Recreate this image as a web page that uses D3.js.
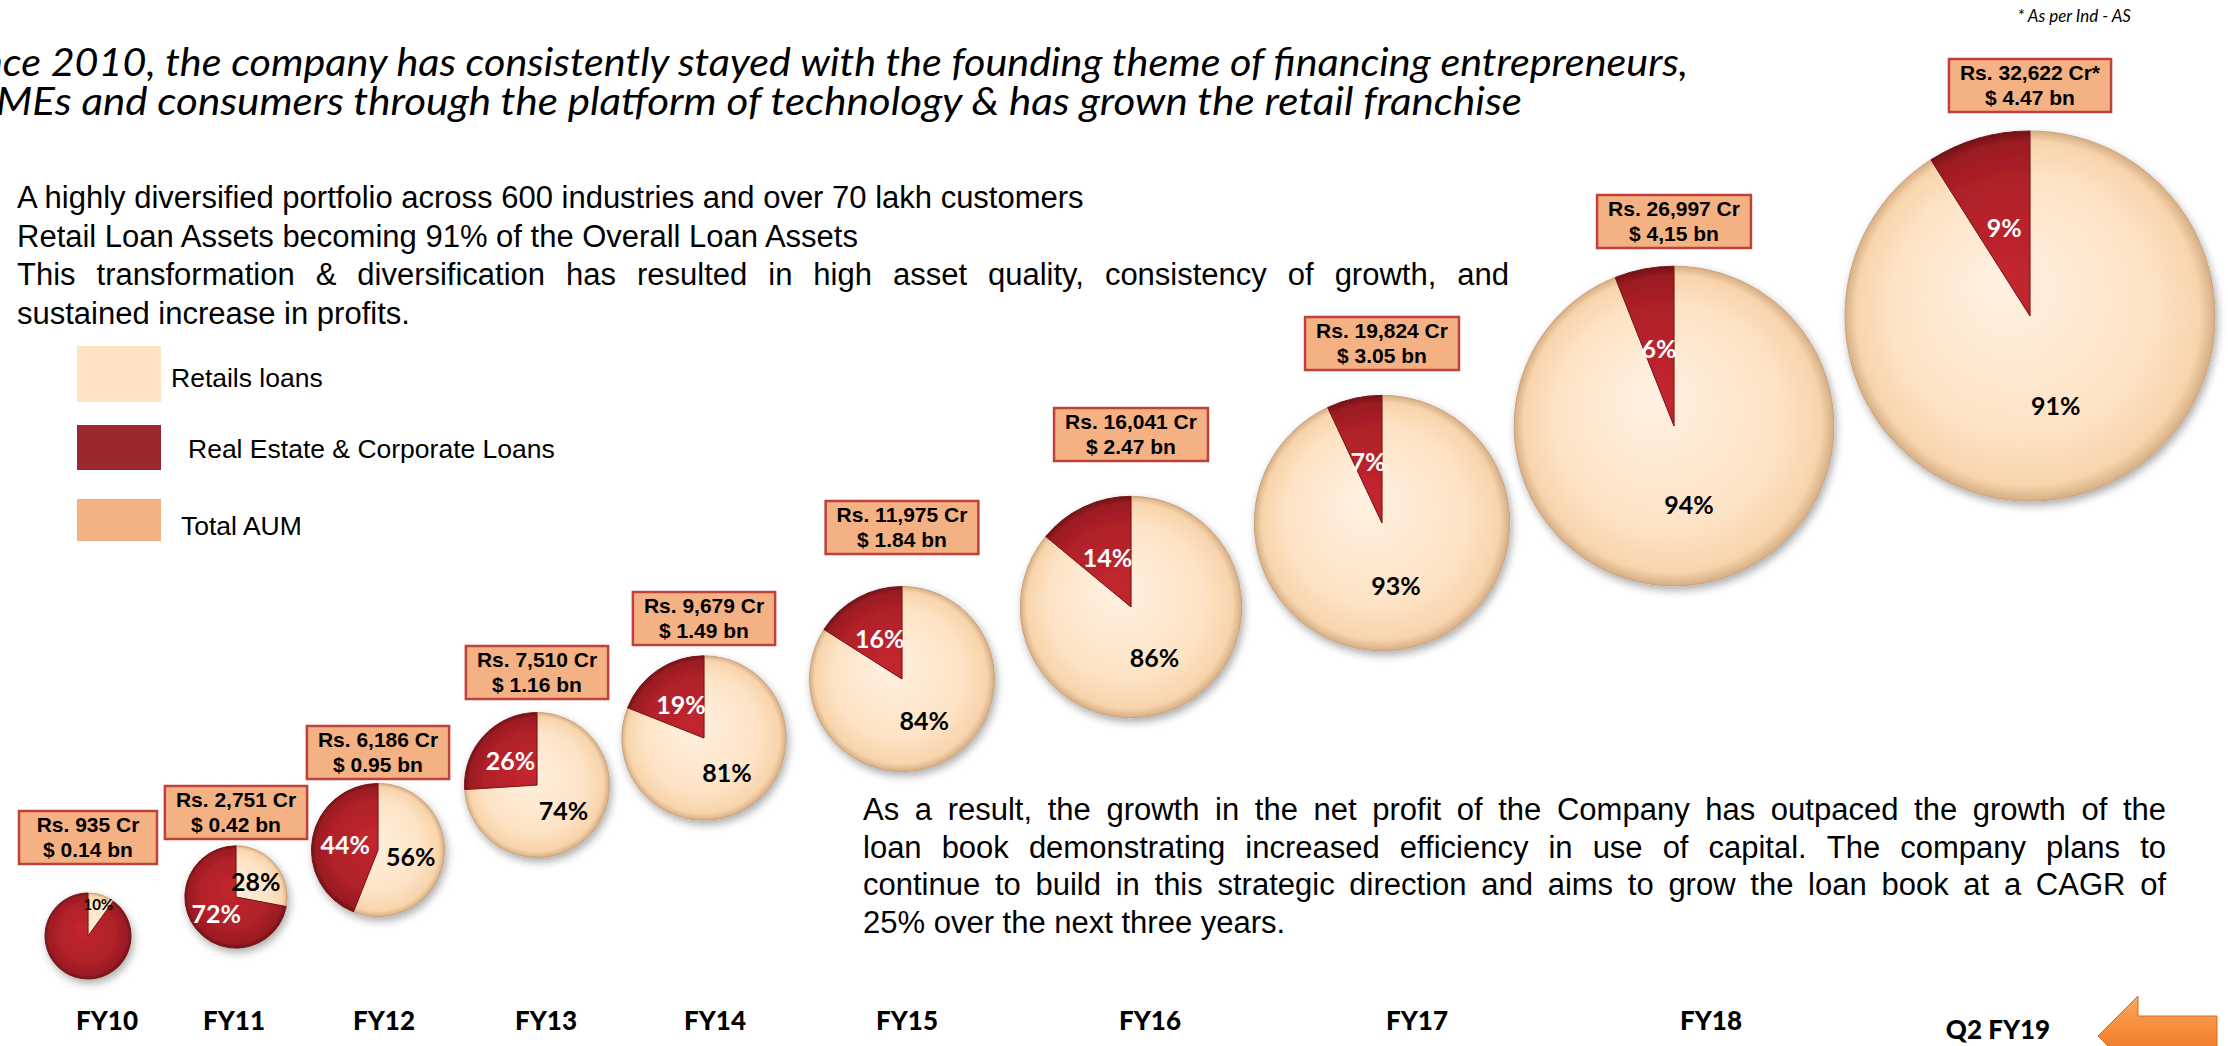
<!DOCTYPE html>
<html>
<head>
<meta charset="utf-8">
<script src="https://cdn.jsdelivr.net/npm/d3@7"></script>
<style>
  html, body { margin: 0; padding: 0; background: #fff; }
  svg { display: block; }
  .body-txt { font-family: "Liberation Sans", Arial, sans-serif; font-size: 31px; fill: #000; }
  .legend-txt { font-family: "Liberation Sans", Arial, sans-serif; font-size: 26.5px; fill: #000; }
  .title { font-family: Lato, "Open Sans", sans-serif; font-style: italic; font-size: 38px; fill: #000; }
  .note { font-family: Lato, "Open Sans", sans-serif; font-style: italic; font-size: 17px; fill: #000; }
  .box-txt { font-family: "Liberation Sans", Arial, sans-serif; font-weight: bold; font-size: 21px; fill: #000; }
  .pct { font-family: Lato, "Open Sans", sans-serif; font-weight: bold; font-size: 25px; }
  .year { font-family: Lato, "Open Sans", sans-serif; font-weight: 900; font-size: 26px; fill: #000; }
</style>
</head>
<body>
<svg id="chart" width="2228" height="1046"></svg>
<script>
// ---------- DATA ----------
const years = ["FY10", "FY11", "FY12", "FY13", "FY14", "FY15", "FY16", "FY17", "FY18", "Q2 FY19"];
const aumCr = [935, 2751, 6186, 7510, 9679, 11975, 16041, 19824, 26997, 32622];
const aumUsd = ["0.14", "0.42", "0.95", "1.16", "1.49", "1.84", "2.47", "3.05", "4,15", "4.47"];
const crMark = ["", "", "", "", "", "", "", "", "", "*"];
const retailPct = [10, 28, 56, 74, 81, 84, 86, 93, 94, 91];
const corpPct = [90, 72, 44, 26, 19, 16, 14, 7, 6, 9];
const hiddenLabels = ["FY10:corp"];   // 90% slice of FY10 has no label in the deck

const legendLabels = ["Retails loans", "Real Estate & Corporate Loans", "Total AUM"];

const titleLines = [
  "Since 2010, the company has consistently stayed with the founding theme of financing entrepreneurs,",
  "SMEs and consumers through the platform of technology & has grown the retail franchise"
];
const titleVisible = [
  "ce 2010, the company has consistently stayed with the founding theme of financing entrepreneurs,",
  "MEs and consumers through the platform of technology & has grown the retail franchise"
];
const introLines = [
  "A highly diversified portfolio across 600 industries and over 70 lakh customers",
  "Retail Loan Assets becoming 91% of the Overall Loan Assets",
  "This transformation & diversification has resulted in high asset quality, consistency of growth, and",
  "sustained increase in profits."
];
const resultLines = [
  "As a result, the growth in the net profit of the Company has outpaced the growth of the",
  "loan book demonstrating increased efficiency in use of capital. The company plans to",
  "continue to build in this strategic direction and aims to grow the loan book at a CAGR of",
  "25% over the next three years."
];

// ---------- COLOURS ----------
const C_BEIGE = "#fde2c3";
const C_AUM = "#f4b183";
const C_AUM_EDGE = "#c0403a";

// ---------- LAYOUT (slots along the growth staircase) ----------
const slotX = d3.scaleOrdinal(years, [88, 236, 378, 537, 704, 902, 1131, 1382, 1674, 2030]);
const slotY = d3.scaleOrdinal(years, [936, 897, 850, 785, 738, 679, 607, 523, 426, 316]);
const boxBottom = d3.scaleOrdinal(years, [864, 839, 779, 699, 645, 554, 461, 370, 248, 112]);
const tickX = d3.scaleOrdinal(years, [107, 234, 384, 546, 715, 907, 1150, 1417, 1711, 1998]);
const rScale = d3.scaleLinear().domain([d3.min(aumCr), d3.max(aumCr)]).range([43, 185]);

const svg = d3.select("#chart");
const defs = svg.append("defs");

// ---------- DEFS ----------
const shadow = defs.append("filter").attr("id", "shadow")
  .attr("x", "-20%").attr("y", "-20%").attr("width", "140%").attr("height", "140%");
shadow.append("feDropShadow")
  .attr("dx", 2).attr("dy", 4).attr("stdDeviation", 4)
  .attr("flood-color", "#000").attr("flood-opacity", 0.33);

const axisGrad = defs.append("linearGradient").attr("id", "axisGrad");
[["0%", "#1a1a1a"], ["40%", "#444"], ["52%", "#a0a0a0"], ["65%", "#555"], ["100%", "#111"]]
  .forEach(([o, c]) => axisGrad.append("stop").attr("offset", o).attr("stop-color", c));

const arrowGrad = defs.append("linearGradient").attr("id", "arrowGrad")
  .attr("x1", 0).attr("y1", 0).attr("x2", 0).attr("y2", 1);
[["0%", "#f9a964"], ["45%", "#f68a36"], ["100%", "#de6a1c"]]
  .forEach(([o, c]) => arrowGrad.append("stop").attr("offset", o).attr("stop-color", c));

function pieGradient(id, r, stops) {
  const g = defs.append("radialGradient").attr("id", id)
    .attr("gradientUnits", "userSpaceOnUse")
    .attr("cx", 0).attr("cy", 0).attr("r", r)
    .attr("fx", -r * 0.15).attr("fy", -r * 0.2);
  stops.forEach(([o, c]) => g.append("stop").attr("offset", o).attr("stop-color", c));
}

// ---------- TITLE ----------
function fitVisible(full, visible, xEnd, visW, y, cls) {
  const probe = svg.append("text").attr("class", cls).text(visible);
  const k = visW / probe.node().getComputedTextLength();
  probe.remove();
  svg.append("text").attr("class", cls)
    .attr("text-anchor", "end")
    .attr("transform", `translate(${xEnd},${y}) scale(${k},1)`)
    .text(full);
}
fitVisible(titleLines[0], titleVisible[0], 1688, 1686, 76, "title");
fitVisible(titleLines[1], titleVisible[1], 1522, 1526, 115, "title");

svg.append("text").attr("class", "note")
  .attr("x", 2131).attr("y", 22).attr("text-anchor", "end")
  .text("* As per Ind - AS");

// ---------- PARAGRAPHS ----------
function justifyLine(str, x0, width, y) {
  const words = str.split(" ");
  const t = svg.append("text").attr("class", "body-txt").attr("y", y);
  const spans = words.map(w => t.append("tspan").text(w));
  const widths = spans.map(s => s.node().getComputedTextLength());
  const gap = (width - d3.sum(widths)) / (words.length - 1);
  let x = x0;
  spans.forEach((s, i) => { s.attr("x", x); x += widths[i] + gap; });
}
function plainLine(str, x0, y) {
  svg.append("text").attr("class", "body-txt").attr("x", x0).attr("y", y).text(str);
}

introLines.forEach((s, i) => {
  const y = 208 + i * 38.5;
  if (i === 2) justifyLine(s, 17, 1492, y);
  else plainLine(s, 17, y);
});

resultLines.forEach((s, i) => {
  const y = 820 + i * 37.5;
  if (i < 3) justifyLine(s, 863, 1303, y);
  else plainLine(s, 863, y);
});

// ---------- LEGEND ----------
const legend = [
  { label: legendLabels[0], color: C_BEIGE, y: 346, h: 56, tx: 171, ty: 387 },
  { label: legendLabels[1], color: "#9c272d", y: 425, h: 45, tx: 188, ty: 458 },
  { label: legendLabels[2], color: C_AUM, y: 499, h: 42, tx: 181, ty: 535 }
];
legend.forEach(d => {
  svg.append("rect").attr("x", 77).attr("y", d.y).attr("width", 84).attr("height", d.h)
    .attr("fill", d.color);
  svg.append("text").attr("class", "legend-txt").attr("x", d.tx).attr("y", d.ty).text(d.label);
});

// ---------- AXIS LINE + ARROW ----------
svg.append("line")
  .attr("x1", 5).attr("x2", 2208).attr("y1", 992).attr("y2", 992)
  .attr("stroke", "url(#axisGrad)").attr("stroke-width", 3);

svg.selectAll(".year")
  .data(years)
  .enter()
  .append("text")
  .attr("class", "year")
  .attr("text-anchor", "middle")
  .attr("x", d => tickX(d))
  .attr("y", d => d === "Q2 FY19" ? 1039 : 1030)
  .text(d => d);

svg.append("path")
  .attr("d", "M2098,1036 L2138,996 L2138,1016 L2217,1016 L2217,1056 L2138,1056 L2138,1076 Z")
  .attr("fill", "url(#arrowGrad)")
  .attr("stroke", "#d9691f").attr("stroke-width", 1);

// ---------- PIES ----------
const pie = d3.pie().sort(null).value(d => d.pct);

years.forEach((yr, i) => {
  const r = rScale(aumCr[i]);
  const cx = slotX(yr), cy = slotY(yr);

  pieGradient(`beige${i}`, r, [["0%", "#fff1e2"], ["70%", "#fde3c5"], ["93%", "#f8d4ab"], ["100%", "#d6ae86"]]);
  pieGradient(`red${i}`, r, [["0%", "#c3262f"], ["70%", "#ae2028"], ["93%", "#991b22"], ["100%", "#6e1015"]]);

  const slices = pie([
    { key: "retail", pct: retailPct[i] },
    { key: "corp", pct: corpPct[i] }
  ]);
  const arc = d3.arc().innerRadius(0).outerRadius(r);

  const g = svg.append("g")
    .attr("transform", `translate(${cx},${cy})`)
    .attr("filter", "url(#shadow)");

  g.selectAll("path")
    .data(slices)
    .enter()
    .append("path")
    .attr("d", arc)
    .attr("fill", d => d.data.key === "retail" ? `url(#beige${i})` : `url(#red${i})`)
    .attr("stroke", d => d.data.key === "retail" ? "#c9a27c" : "#7a1418")
    .attr("stroke-width", 1);

  // labels
  const labelArc = r < 50
    ? d3.arc().innerRadius(r * 0.55).outerRadius(r)
    : arc;
  const lg = svg.append("g").attr("transform", `translate(${cx},${cy})`);
  lg.selectAll("text")
    .data(slices.filter(d => !hiddenLabels.includes(`${yr}:${d.data.key}`)))
    .enter()
    .append("text")
    .attr("class", "pct")
    .attr("transform", d => `translate(${labelArc.centroid(d)})`)
    .attr("text-anchor", "middle")
    .attr("dominant-baseline", "central")
    .style("font-size", r < 50 ? "15px" : null)
    .attr("fill", d => d.data.key === "retail" ? "#000" : "#fff")
    .text(d => `${d.data.pct}%`);

  // ---------- AUM BOX ----------
  const bottom = boxBottom(yr);
  const top = bottom - 53;
  const bg = svg.append("g");
  const rect = bg.append("rect");
  const l1 = bg.append("text").attr("class", "box-txt").attr("text-anchor", "middle")
    .attr("x", cx).attr("y", top + 21)
    .text(`Rs. ${d3.format(",")(aumCr[i])} Cr${crMark[i]}`);
  const l2 = bg.append("text").attr("class", "box-txt").attr("text-anchor", "middle")
    .attr("x", cx).attr("y", top + 46)
    .text(`$ ${aumUsd[i]} bn`);
  const w = Math.max(138, Math.max(l1.node().getComputedTextLength(), l2.node().getComputedTextLength()) + 22);
  rect.attr("x", cx - w / 2).attr("y", top).attr("width", w).attr("height", 53)
    .attr("fill", C_AUM).attr("stroke", C_AUM_EDGE).attr("stroke-width", 2.5);
});
</script>
</body>
</html>
